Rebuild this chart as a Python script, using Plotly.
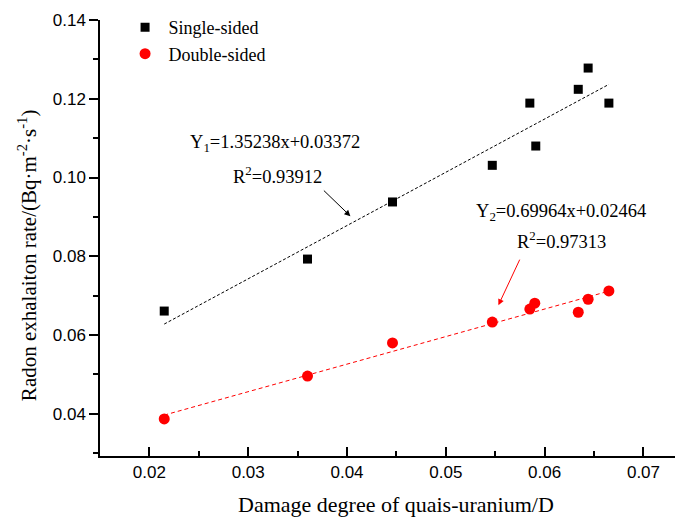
import plotly.graph_objects as go

# Data
single_x = [0.0215, 0.0360, 0.0446, 0.0547, 0.0585, 0.0591, 0.0634, 0.0644, 0.0665]
single_y = [0.0661, 0.0793, 0.0938, 0.1031, 0.1189, 0.1080, 0.1224, 0.1278, 0.1189]
double_x = [0.0215, 0.0360, 0.0446, 0.0547, 0.0585, 0.0590, 0.0634, 0.0644, 0.0665]
double_y = [0.0387, 0.0496, 0.0580, 0.0633, 0.0666, 0.0681, 0.0658, 0.0691, 0.0712]

fit1_slope, fit1_icpt = 1.35238, 0.03372
fit2_slope, fit2_icpt = 0.69964, 0.02464
fit_x = [0.0215, 0.0665]

x_ticks = [0.02, 0.03, 0.04, 0.05, 0.06, 0.07]
x_tick_labels = ["0.02", "0.03", "0.04", "0.05", "0.06", "0.07"]
y_ticks = [0.04, 0.06, 0.08, 0.10, 0.12, 0.14]
y_tick_labels = ["0.04", "0.06", "0.08", "0.10", "0.12", "0.14"]

serif = "Liberation Serif"
sans = "Liberation Sans"

fig = go.Figure()
fig.add_trace(go.Scatter(
    x=fit_x, y=[fit1_slope * v + fit1_icpt for v in fit_x], mode="lines",
    line=dict(color="black", width=1, dash="3px,2px"), showlegend=False, hoverinfo="skip"))
fig.add_trace(go.Scatter(
    x=fit_x, y=[fit2_slope * v + fit2_icpt for v in fit_x], mode="lines",
    line=dict(color="red", width=1, dash="4px,3px"), showlegend=False, hoverinfo="skip"))
fig.add_trace(go.Scatter(
    x=single_x, y=single_y, mode="markers", name="Single-sided",
    marker=dict(symbol="square", size=9, color="black")))
fig.add_trace(go.Scatter(
    x=double_x, y=double_y, mode="markers", name="Double-sided",
    marker=dict(symbol="circle", size=11, color="red")))

# page body has an 8px default margin, so the figure is 8px smaller
fig.update_layout(
    width=675, height=509,
    margin=dict(l=92, r=0, t=12, b=61, autoexpand=False),
    plot_bgcolor="white", paper_bgcolor="white",
    font=dict(family=serif, size=18, color="black"),
    legend=dict(x=0.037, y=1.025, xanchor="left", yanchor="top",
                bgcolor="rgba(0,0,0,0)", font=dict(family=serif, size=18),
                itemwidth=37, tracegroupgap=0),
    xaxis=dict(
        range=[0.015, 0.074], showgrid=False, zeroline=False, automargin=False,
        showline=True, linecolor="black", linewidth=1.5,
        ticks="inside", ticklen=9, tickwidth=1.5, tickcolor="black",
        tickvals=x_ticks, ticktext=x_tick_labels,
        tickfont=dict(family=sans, size=17),
        minor=dict(ticks="inside", ticklen=5, tickwidth=1.5, tickcolor="black",
                   tickvals=[0.025, 0.035, 0.045, 0.055, 0.065]),
    ),
    yaxis=dict(
        range=[0.0293, 0.14], showgrid=False, zeroline=False, automargin=False,
        showline=True, linecolor="black", linewidth=1.5,
        ticks="outside", ticklen=9, tickwidth=1.5, tickcolor="black",
        tickvals=y_ticks, ticktext=y_tick_labels,
        tickfont=dict(family=sans, size=17),
        minor=dict(ticks="outside", ticklen=5, tickwidth=1.5, tickcolor="black",
                   tickvals=[0.03, 0.05, 0.07, 0.09, 0.11, 0.13]),
    ),
)

# axis titles
fig.add_annotation(xref="paper", yref="paper", x=0.508, y=-0.112,
                   xanchor="center", yanchor="middle", showarrow=False,
                   text="Damage degree of quais-uranium/D",
                   font=dict(family=serif, size=22, color="black"))
fig.add_annotation(xref="paper", yref="paper", x=-0.125, y=0.461,
                   xanchor="center", yanchor="middle", showarrow=False, textangle=-90,
                   text="Radon exhalaiton rate/(Bq·m<sup>-2</sup>·s<sup>-1</sup>)",
                   font=dict(family=serif, size=21, color="black"))

ann_font = dict(family=serif, size=18.5, color="black")
fig.add_annotation(x=0.03275, y=0.1087, text="Y<sub>1</sub>=1.35238x+0.03372",
                   showarrow=False, font=ann_font)
fig.add_annotation(x=0.0330, y=0.1006, text="R<sup>2</sup>=0.93912",
                   showarrow=False, font=ann_font)
fig.add_annotation(x=0.0617, y=0.0912, text="Y<sub>2</sub>=0.69964x+0.02464",
                   showarrow=False, font=ann_font)
fig.add_annotation(x=0.0617, y=0.0841, text="R<sup>2</sup>=0.97313",
                   showarrow=False, font=ann_font)
fig.add_annotation(x=0.04034, y=0.0902, ax=-28, ay=-27, text="", showarrow=True,
                   arrowhead=2, arrowsize=1.2, arrowwidth=1, arrowcolor="black")
fig.add_annotation(x=0.05532, y=0.0676, ax=22, ay=-47, text="", showarrow=True,
                   arrowhead=2, arrowsize=1.2, arrowwidth=1, arrowcolor="red")

fig.write_html("out.html")
